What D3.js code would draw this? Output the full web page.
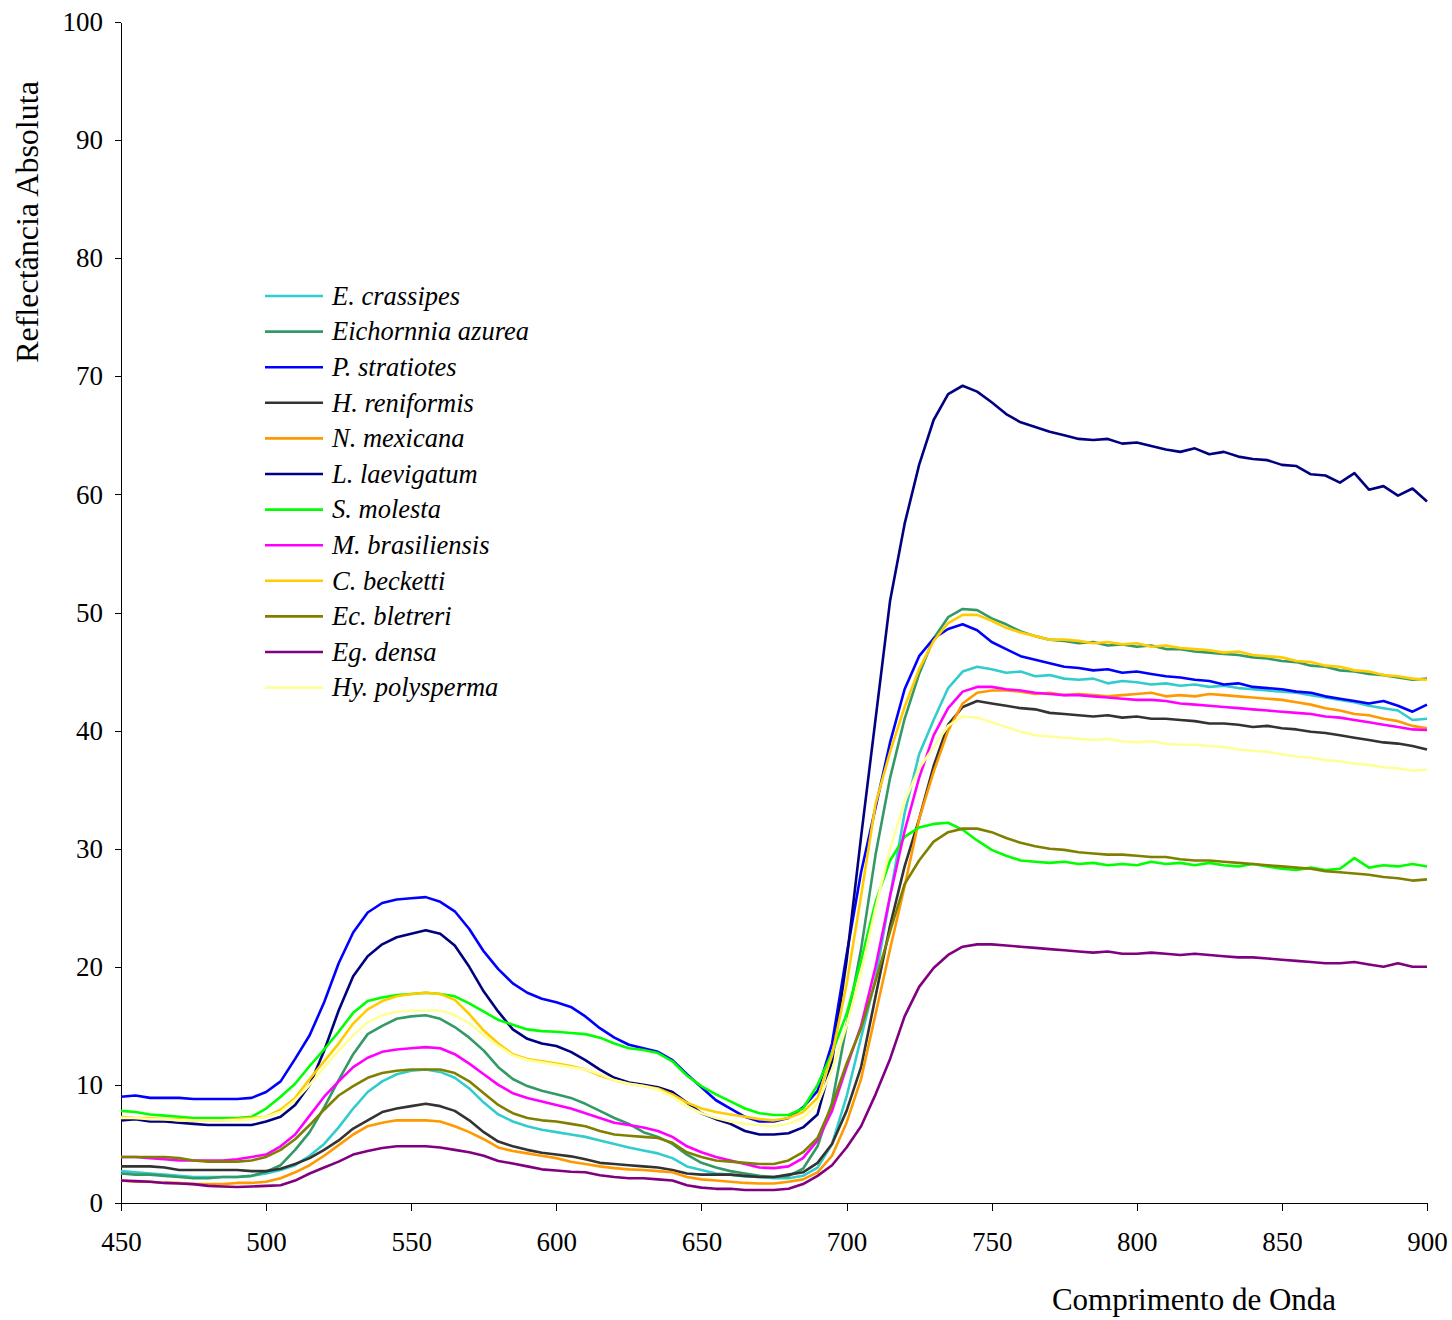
<!DOCTYPE html>
<html>
<head>
<meta charset="utf-8">
<script src="https://cdn.jsdelivr.net/npm/d3@7"></script>
<style>
  body { margin: 0; background: #fff; }
  .chart text { font-family: "Liberation Serif", "DejaVu Serif", serif; fill: #000; }
  .axis path, .axis line { stroke: #000; stroke-width: 1; shape-rendering: crispEdges; }
  .axis text { font-size: 27px; }
  .legend text { font-style: italic; font-size: 26.5px; }
  .series { fill: none; stroke-width: 2.6; stroke-linejoin: round; }
</style>
</head>
<body>
<svg class="chart"></svg>
<script>
var wavelengths = d3.range(450, 905, 5);

var names = ["E. crassipes", "Eichornnia azurea", "P. stratiotes", "H. reniformis",
  "N. mexicana", "L. laevigatum", "S. molesta", "M. brasiliensis", "C. becketti",
  "Ec. bletreri", "Eg. densa", "Hy. polysperma"];

var colors = ["#33cccc", "#339966", "#0000ff", "#333333", "#ff9900", "#000080",
  "#00ff00", "#ff00ff", "#ffcc00", "#808000", "#800080", "#ffff99"];

// reflectance every 5 nm, 450 -> 900
var eCrassipes = [
  2.7, 2.6, 2.5, 2.4, 2.3, 2.2, 2.2, 2.2, 2.2, 2.3,
  2.5, 2.8, 3.2, 4.0, 5.0, 6.4, 8.0, 9.4, 10.3, 10.9,
  11.2, 11.3, 11.1, 10.6, 9.7, 8.5, 7.5, 6.9, 6.5, 6.2,
  6.0, 5.8, 5.6, 5.3, 5.0, 4.7, 4.45, 4.2, 3.8, 3.1,
  2.8, 2.5, 2.4, 2.25, 2.2, 2.1, 2.1, 2.3, 3.0, 5.0,
  9.0, 14.0, 19.0, 26.0, 33.0, 38.0, 40.9, 43.6, 45.0, 45.4,
  45.2, 44.9, 45.0, 44.6, 44.7, 44.4, 44.3, 44.4, 44.0, 44.2,
  44.1, 43.9, 44.0, 43.8, 43.9, 43.7, 43.8, 43.6, 43.5, 43.4,
  43.3, 43.2, 43.0, 42.8, 42.6, 42.4, 42.1, 41.9, 41.7, 40.9,
  41.0];

var eAzurea = [
  2.5, 2.4, 2.4, 2.3, 2.2, 2.1, 2.1, 2.2, 2.2, 2.3,
  2.65, 3.2, 4.5, 6.0, 8.1, 10.4, 12.6, 14.3, 15.0, 15.6,
  15.8, 15.9, 15.6, 14.9, 14.0, 12.9, 11.5, 10.5, 9.9, 9.5,
  9.2, 8.9, 8.4, 7.8, 7.2, 6.7, 6.0, 5.6, 5.0, 4.1,
  3.4, 3.0, 2.7, 2.5, 2.3, 2.2, 2.3, 2.9, 4.8, 8.5,
  15.0, 21.5, 29.5, 36.0, 41.0, 44.8, 47.8, 49.6, 50.3, 50.2,
  49.5, 49.0, 48.4, 48.0, 47.7, 47.6, 47.4, 47.5, 47.2, 47.3,
  47.1, 47.2, 46.9, 46.9, 46.7, 46.6, 46.5, 46.4, 46.2, 46.1,
  45.9, 45.8, 45.5, 45.4, 45.1, 45.0, 44.8, 44.7, 44.5, 44.3,
  44.4];

var pStratiotes = [
  9.0, 9.1, 8.9, 8.9, 8.9, 8.8, 8.8, 8.8, 8.8, 8.9,
  9.4, 10.3, 12.2, 14.2, 17.0, 20.3, 22.9, 24.6, 25.4, 25.7,
  25.8, 25.9, 25.5, 24.7, 23.2, 21.3, 19.8, 18.6, 17.8, 17.3,
  17.0, 16.6, 15.8, 14.8, 14.0, 13.4, 13.1, 12.8, 12.1, 10.9,
  9.8, 8.7, 8.0, 7.3, 6.9, 6.9, 7.2, 8.1, 9.5, 13.5,
  21.0, 28.0, 33.5, 39.0, 43.5, 46.3, 47.8, 48.6, 49.0, 48.5,
  47.5, 46.9, 46.3, 46.0, 45.7, 45.4, 45.3, 45.1, 45.2, 44.9,
  45.0, 44.8, 44.6, 44.5, 44.3, 44.2, 43.9, 44.0, 43.7, 43.6,
  43.5, 43.3, 43.2, 42.9, 42.7, 42.5, 42.3, 42.5, 42.1, 41.6,
  42.2];

var hReniformis = [
  3.1, 3.1, 3.1, 3.0, 2.8, 2.8, 2.8, 2.8, 2.8, 2.7,
  2.7, 2.9, 3.3, 3.8, 4.5, 5.3, 6.3, 7.0, 7.7, 8.0,
  8.2, 8.4, 8.2, 7.8, 7.0, 6.0, 5.2, 4.8, 4.5, 4.25,
  4.1, 3.95, 3.7, 3.4, 3.3, 3.2, 3.1, 3.0, 2.8, 2.5,
  2.4, 2.4, 2.4, 2.3, 2.2, 2.2, 2.4, 2.6, 3.4, 5.0,
  7.8, 11.5, 17.5, 23.5, 28.5, 32.5, 37.0, 40.5, 42.0, 42.5,
  42.3, 42.1, 41.9, 41.8, 41.5, 41.4, 41.3, 41.2, 41.3, 41.1,
  41.2, 41.0, 41.0, 40.9, 40.8, 40.6, 40.6, 40.5, 40.3, 40.4,
  40.2, 40.1, 39.9, 39.8, 39.6, 39.4, 39.2, 39.0, 38.9, 38.7,
  38.4];

var nMexicana = [
  1.9, 1.8, 1.8, 1.7, 1.7, 1.6, 1.6, 1.6, 1.7, 1.7,
  1.8, 2.1, 2.6, 3.2, 4.0, 4.9, 5.8, 6.5, 6.8, 7.0,
  7.0, 7.0, 6.9, 6.5, 6.0, 5.4, 4.7, 4.4, 4.2, 4.0,
  3.8, 3.5, 3.3, 3.1, 2.95, 2.85, 2.8, 2.7, 2.6, 2.2,
  2.0, 1.9, 1.8, 1.7, 1.65, 1.65, 1.8, 2.0, 2.6, 4.0,
  6.8, 10.5, 16.0, 21.5, 26.8, 32.5, 36.5, 40.0, 42.3, 43.2,
  43.4, 43.4, 43.3, 43.1, 43.2, 43.0, 43.1, 43.0, 42.9, 43.0,
  43.1, 43.2, 42.9, 43.0, 42.9, 43.1, 43.0, 42.9, 42.8, 42.7,
  42.6, 42.4, 42.2, 41.9, 41.7, 41.4, 41.3, 41.0, 40.8, 40.4,
  40.2];

var lLaevigatum = [
  7.0, 7.1, 6.9, 6.9, 6.8, 6.7, 6.6, 6.6, 6.6, 6.6,
  6.9, 7.3, 8.3, 10.0, 12.9, 16.3, 19.2, 20.9, 21.9, 22.5,
  22.8, 23.1, 22.8, 21.8, 20.0, 17.9, 16.2, 14.7, 13.9, 13.5,
  13.3, 12.8, 12.1, 11.3, 10.6, 10.2, 10.0, 9.8, 9.4, 8.5,
  7.6, 7.1, 6.7, 6.1, 5.8, 5.8, 5.9, 6.4, 7.5, 12.0,
  20.5, 31.0, 41.0, 51.0, 57.5, 62.5, 66.3, 68.5, 69.2, 68.7,
  67.8, 66.8, 66.1, 65.7, 65.3, 65.0, 64.7, 64.6, 64.7, 64.3,
  64.4, 64.1, 63.8, 63.6, 63.9, 63.4, 63.6, 63.2, 63.0, 62.9,
  62.5, 62.4, 61.7, 61.6, 61.0, 61.8, 60.4, 60.7, 59.9, 60.5,
  59.4];

var sMolesta = [
  7.8, 7.7, 7.5, 7.4, 7.3, 7.2, 7.2, 7.2, 7.2, 7.3,
  8.0, 9.0, 10.1, 11.6, 13.0, 14.5, 16.1, 17.1, 17.4, 17.6,
  17.7, 17.8, 17.7, 17.5, 16.9, 16.2, 15.5, 15.1, 14.7, 14.55,
  14.5, 14.4, 14.3, 14.0, 13.5, 13.1, 12.95, 12.7, 12.0, 10.8,
  9.9, 9.2, 8.6, 8.0, 7.6, 7.45, 7.45, 8.0, 10.0, 12.7,
  16.0, 20.5, 25.5, 29.0, 31.0, 31.8, 32.1, 32.2, 31.6, 30.7,
  29.9, 29.4, 29.0, 28.9, 28.8, 28.9, 28.7, 28.8, 28.6, 28.7,
  28.6, 28.9, 28.7, 28.8, 28.6, 28.8, 28.6, 28.5, 28.7, 28.5,
  28.3, 28.2, 28.4, 28.2, 28.3, 29.2, 28.4, 28.6, 28.5, 28.7,
  28.5];

var mBrasiliensis = [
  3.9, 3.9, 3.8, 3.7, 3.6, 3.6, 3.6, 3.6, 3.7, 3.9,
  4.1, 4.8, 5.8, 7.4, 9.0, 10.3, 11.5, 12.3, 12.8, 13.0,
  13.1, 13.2, 13.1, 12.6, 11.8, 10.9, 10.0, 9.3, 8.9, 8.6,
  8.3, 8.0, 7.6, 7.2, 6.8, 6.6, 6.4, 6.1, 5.6, 4.8,
  4.3, 3.9, 3.6, 3.3, 3.0, 2.95, 3.1, 3.8, 5.3, 7.8,
  11.5, 15.0, 20.0, 26.0, 31.5, 36.0, 39.6, 41.9, 43.3, 43.7,
  43.7, 43.5, 43.4, 43.2, 43.1, 43.0, 43.0, 42.9, 42.8, 42.7,
  42.6, 42.6, 42.5, 42.3, 42.2, 42.1, 42.0, 41.9, 41.8, 41.7,
  41.6, 41.5, 41.4, 41.2, 41.1, 40.9, 40.7, 40.5, 40.3, 40.1,
  40.05];

var cBecketti = [
  7.3, 7.2, 7.2, 7.1, 7.1, 7.0, 7.0, 7.0, 7.1, 7.2,
  7.3, 7.9, 8.9, 10.5, 12.0, 13.5, 15.2, 16.4, 17.1, 17.5,
  17.7, 17.8, 17.7, 17.2, 16.0, 14.6, 13.5, 12.6, 12.2, 12.0,
  11.8, 11.6, 11.3, 10.8, 10.4, 10.1, 9.9, 9.7, 9.2, 8.5,
  8.0, 7.7, 7.5, 7.3, 7.1, 7.0, 7.2, 7.7, 8.9, 12.5,
  18.5, 26.0, 33.8, 38.2, 42.0, 45.2, 47.6, 49.1, 49.8, 49.8,
  49.3, 48.7, 48.3, 48.0, 47.7, 47.7, 47.6, 47.4, 47.5, 47.3,
  47.4, 47.1, 47.2, 47.0, 46.9, 46.8, 46.6, 46.7, 46.4, 46.3,
  46.2, 45.9, 45.8, 45.5, 45.4, 45.1, 45.0, 44.7, 44.6, 44.4,
  44.3];

var ecBletreri = [
  3.9, 3.9, 3.9, 3.9, 3.8, 3.6, 3.5, 3.5, 3.5, 3.6,
  3.9, 4.5, 5.4, 6.6, 7.9, 9.1, 9.9, 10.6, 11.0, 11.2,
  11.3, 11.3, 11.3, 11.0, 10.3, 9.3, 8.3, 7.6, 7.2, 7.0,
  6.9, 6.7, 6.5, 6.1, 5.8, 5.7, 5.6, 5.5, 5.1, 4.3,
  3.9, 3.6, 3.5, 3.4, 3.3, 3.3, 3.6, 4.3, 5.5, 8.3,
  11.8, 14.8, 18.8, 23.0, 27.0, 29.0, 30.6, 31.4, 31.7, 31.7,
  31.4, 30.9, 30.5, 30.2, 30.0, 29.9, 29.7, 29.6, 29.5, 29.5,
  29.4, 29.3, 29.3, 29.1, 29.0, 29.0, 28.9, 28.8, 28.7, 28.6,
  28.5, 28.4, 28.3, 28.1, 28.0, 27.9, 27.8, 27.6, 27.5, 27.3,
  27.4];

var egDensa = [
  1.9, 1.85, 1.8, 1.7, 1.65, 1.6, 1.45, 1.4, 1.35, 1.4,
  1.45, 1.5, 1.9, 2.5, 3.0, 3.5, 4.1, 4.4, 4.65, 4.8,
  4.8, 4.8, 4.7, 4.5, 4.3, 4.0, 3.55, 3.35, 3.1, 2.85,
  2.75, 2.65, 2.6, 2.35, 2.2, 2.1, 2.1, 2.0, 1.9, 1.5,
  1.3, 1.2, 1.2, 1.1, 1.1, 1.1, 1.2, 1.6, 2.3, 3.2,
  4.7, 6.5, 9.2, 12.2, 15.8, 18.3, 19.9, 21.0, 21.7, 21.9,
  21.9, 21.8, 21.7, 21.6, 21.5, 21.4, 21.3, 21.2, 21.3, 21.1,
  21.1, 21.2, 21.1, 21.0, 21.1, 21.0, 20.9, 20.8, 20.8, 20.7,
  20.6, 20.5, 20.4, 20.3, 20.3, 20.4, 20.2, 20.0, 20.3, 20.0,
  20.0];

var hyPolysperma = [
  7.2, 7.2, 7.1, 7.1, 7.0, 7.0, 7.0, 7.0, 7.0, 7.1,
  7.3, 7.7, 8.7, 10.0, 11.5, 12.9, 14.2, 15.3, 15.9, 16.2,
  16.3, 16.3, 16.3, 15.9, 15.2, 14.2, 13.3, 12.5, 12.1, 11.9,
  11.7, 11.5, 11.3, 10.9, 10.4, 10.1, 9.9, 9.6, 9.0, 8.2,
  7.6, 7.2, 6.9, 6.7, 6.6, 6.5, 6.7, 7.2, 8.4, 11.3,
  15.0, 19.5, 25.0, 30.0, 34.0, 36.8, 38.6, 40.4, 41.2, 41.1,
  40.7, 40.3, 39.9, 39.6, 39.5, 39.4, 39.3, 39.2, 39.3, 39.1,
  39.0, 39.1, 38.9, 38.8, 38.8, 38.7, 38.6, 38.4, 38.3, 38.2,
  38.0, 37.8, 37.7, 37.5, 37.4, 37.2, 37.1, 36.9, 36.8, 36.6,
  36.7];

var seriesValues = [eCrassipes, eAzurea, pStratiotes, hReniformis, nMexicana,
  lLaevigatum, sMolesta, mBrasiliensis, cBecketti, ecBletreri, egDensa, hyPolysperma];

var xTicks = [450, 500, 550, 600, 650, 700, 750, 800, 850, 900];
var yTicks = [0, 10, 20, 30, 40, 50, 60, 70, 80, 90, 100];

var W = 1452, H = 1320;
var margin = {top: 22, right: 25, bottom: 117, left: 121};

var svg = d3.select(".chart").attr("width", W).attr("height", H);

var x = d3.scaleLinear().domain([450, 900]).range([margin.left, W - margin.right]);
var y = d3.scaleLinear().domain([0, 100]).range([H - margin.bottom, margin.top]);

svg.append("g")
  .attr("class", "axis")
  .attr("transform", "translate(" + margin.left + ",0)")
  .call(d3.axisLeft(y).tickValues(yTicks).tickSize(6).tickPadding(12).tickSizeOuter(0))
  .attr("font-family", null).attr("font-size", null);

svg.append("g")
  .attr("class", "axis")
  .attr("transform", "translate(0," + (H - margin.bottom) + ")")
  .call(d3.axisBottom(x).tickValues(xTicks).tickSize(8).tickPadding(21).tickSizeOuter(0))
  .attr("font-family", null).attr("font-size", null);

var line = d3.line()
  .x(function(d, i) { return x(wavelengths[i]); })
  .y(function(d) { return y(d); });

svg.append("g").selectAll("path")
  .data(seriesValues)
  .enter().append("path")
  .attr("class", "series")
  .attr("stroke", function(d, i) { return colors[i]; })
  .attr("d", line);

// legend
var legend = svg.append("g").attr("class", "legend");
var row = legend.selectAll("g")
  .data(names)
  .enter().append("g")
  .attr("transform", function(d, i) { return "translate(265," + (296 + i * 35.6) + ")"; });

row.append("line")
  .attr("x1", 0).attr("x2", 58)
  .attr("stroke", function(d, i) { return colors[i]; })
  .attr("stroke-width", 2.6);

row.append("text")
  .attr("x", 67)
  .attr("dy", "0.33em")
  .text(function(d) { return d; });

// axis titles
svg.append("text")
  .attr("transform", "translate(38,222) rotate(-90)")
  .attr("text-anchor", "middle")
  .style("font-size", "32px")
  .text("Reflectância Absoluta");

svg.append("text")
  .attr("x", 1194)
  .attr("y", 1310)
  .attr("text-anchor", "middle")
  .style("font-size", "31px")
  .text("Comprimento de Onda");
</script>
</body>
</html>
